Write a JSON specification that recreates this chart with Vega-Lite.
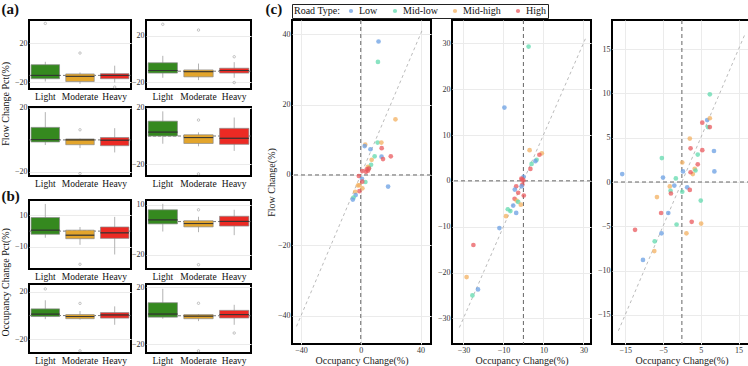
{
  "$schema": "https://vega.github.io/schema/vega-lite/v6.json",
  "padding": {"left": 1, "top": 1, "right": 1, "bottom": 1},
  "background": "white",
  "config": {
    "font": "'Liberation Serif', 'Times New Roman', 'DejaVu Serif', serif",
    "view": {"stroke": "black", "strokeWidth": 2},
    "axis": {"labelFont": "'Liberation Serif', 'Times New Roman', 'DejaVu Serif', serif", "titleFont": "'Liberation Serif', 'Times New Roman', 'DejaVu Serif', serif", "labelFontSize": 8, "titleFontSize": 10, "titleFontWeight": "normal", "labelColor": "#333", "titleColor": "#222", "domain": false, "ticks": false, "gridColor": "#ebebeb", "labelPadding": 2, "titlePadding": 1},
    "legend": {"labelFont": "'Liberation Serif', 'Times New Roman', 'DejaVu Serif', serif", "titleFont": "'Liberation Serif', 'Times New Roman', 'DejaVu Serif', serif"},
    "title": {"font": "'Liberation Serif', 'Times New Roman', 'DejaVu Serif', serif", "color": "#111"}
  },
  "datasets": {
    "box": [
      {"p": "A1", "c": "Light", "lo": -19.3, "q1": -16.4, "med": -13, "q3": -2, "hi": 1},
      {"p": "A1", "c": "Moderate", "lo": -21.7, "q1": -19.3, "med": -14, "q3": -11.5, "hi": -10},
      {"p": "A1", "c": "Heavy", "lo": -20.3, "q1": -16.4, "med": -13, "q3": -11.2, "hi": -3},
      {"p": "A2", "c": "Light", "lo": -16.3, "q1": -12.2, "med": -10, "q3": -3.3, "hi": 2.7},
      {"p": "A2", "c": "Moderate", "lo": -18.3, "q1": -15.5, "med": -11, "q3": -9.5, "hi": -4},
      {"p": "A2", "c": "Heavy", "lo": -16.3, "q1": -12.2, "med": -10, "q3": -8, "hi": -2.8},
      {"p": "A3", "c": "Light", "lo": -3.2, "q1": -1.3, "med": 0.2, "q3": 7.8, "hi": 17.3},
      {"p": "A3", "c": "Moderate", "lo": -5.1, "q1": -3, "med": 0, "q3": 0.6, "hi": 0.8},
      {"p": "A3", "c": "Heavy", "lo": -7.8, "q1": -3.6, "med": -0.2, "q3": 1.5, "hi": 7.3},
      {"p": "A4", "c": "Light", "lo": -5.5, "q1": 0, "med": 2.8, "q3": 10.6, "hi": 17.6},
      {"p": "A4", "c": "Moderate", "lo": -7.3, "q1": -5.3, "med": -1.1, "q3": 0.9, "hi": 2.6},
      {"p": "A4", "c": "Heavy", "lo": -10.6, "q1": -5.9, "med": -1.6, "q3": 5.5, "hi": 13.2},
      {"p": "B1", "c": "Light", "lo": -4.2, "q1": -2, "med": 0.6, "q3": 8.6, "hi": 17.2},
      {"p": "B1", "c": "Moderate", "lo": -8.7, "q1": -4.8, "med": -2.6, "q3": 0.6, "hi": 2.6},
      {"p": "B1", "c": "Heavy", "lo": -14.8, "q1": -4.6, "med": -1.1, "q3": 2.6, "hi": 9},
      {"p": "B2", "c": "Light", "lo": -6, "q1": -1.4, "med": 1, "q3": 7.1, "hi": 10.7},
      {"p": "B2", "c": "Moderate", "lo": -6.4, "q1": -3.2, "med": -1.2, "q3": 0.5, "hi": 2.9},
      {"p": "B2", "c": "Heavy", "lo": -8.2, "q1": -2.7, "med": 0.1, "q3": 3.2, "hi": 7.1},
      {"p": "B3", "c": "Light", "lo": -3, "q1": -0.8, "med": 1.2, "q3": 5.6, "hi": 12.8},
      {"p": "B3", "c": "Moderate", "lo": -3.4, "q1": -2.6, "med": -0.8, "q3": 0.8, "hi": 3.8},
      {"p": "B3", "c": "Heavy", "lo": -7.7, "q1": -2.1, "med": 0.5, "q3": 2.5, "hi": 7.7},
      {"p": "B4", "c": "Light", "lo": -2.1, "q1": -1, "med": 1.2, "q3": 9.2, "hi": 19},
      {"p": "B4", "c": "Moderate", "lo": -3.8, "q1": -2.1, "med": -0.3, "q3": 0.8, "hi": 1.2},
      {"p": "B4", "c": "Heavy", "lo": -6.4, "q1": -1.6, "med": 0.8, "q3": 3.8, "hi": 7.7}
    ],
    "out": [
      {"p": "A1", "c": "Light", "v": 40.5}, {"p": "A1", "c": "Moderate", "v": 10}, {"p": "A1", "c": "Heavy", "v": -25},
      {"p": "A2", "c": "Light", "v": 30}, {"p": "A2", "c": "Moderate", "v": 25}, {"p": "A2", "c": "Heavy", "v": 1.9}, {"p": "A2", "c": "Heavy", "v": -20.4},
      {"p": "A3", "c": "Moderate", "v": 6.3}, {"p": "A3", "c": "Moderate", "v": -21},
      {"p": "A4", "c": "Moderate", "v": 11.4}, {"p": "A4", "c": "Moderate", "v": -27},
      {"p": "B1", "c": "Moderate", "v": -21},
      {"p": "B2", "c": "Moderate", "v": 7.1}, {"p": "B2", "c": "Moderate", "v": -26},
      {"p": "B3", "c": "Light", "v": 22.3}, {"p": "B3", "c": "Moderate", "v": 10.2}, {"p": "B3", "c": "Moderate", "v": -29.5},
      {"p": "B4", "c": "Moderate", "v": 8.8}, {"p": "B4", "c": "Moderate", "v": -24.8}, {"p": "B4", "c": "Heavy", "v": -12.2}
    ],
    "refs": [
      {"p": "A1", "v": -13}, {"p": "A2", "v": -10.6}, {"p": "A3", "v": 0}, {"p": "A4", "v": 0},
      {"p": "B1", "v": 0}, {"p": "B2", "v": 0}, {"p": "B3", "v": 0}, {"p": "B4", "v": 0},
      {"p": "S1", "v": 0}, {"p": "S2", "v": 0}, {"p": "S3", "v": 0}
    ],
    "diag": [
      {"p": "S1", "x": -43, "y": -43}, {"p": "S1", "x": 41, "y": 41},
      {"p": "S2", "x": -32, "y": -32}, {"p": "S2", "x": 31.5, "y": 31.5},
      {"p": "S3", "x": -16.8, "y": -16.8}, {"p": "S3", "x": 16.6, "y": 16.6}
    ],
    "pts": [
      {"p": "S1", "x": 11.9, "y": 37.9, "t": "Low"}, {"p": "S1", "x": 11.5, "y": 32.1, "t": "Mid-low"}, {"p": "S1", "x": 23.2, "y": 15.8, "t": "Mid-high"},
      {"p": "S1", "x": 3.0, "y": 8.6, "t": "Mid-high"}, {"p": "S1", "x": 2.6, "y": 8.2, "t": "Low"}, {"p": "S1", "x": 6.5, "y": 7.3, "t": "Low"},
      {"p": "S1", "x": 11.3, "y": 9.2, "t": "Mid-low"}, {"p": "S1", "x": 13.8, "y": 9.2, "t": "Mid-high"}, {"p": "S1", "x": 14.0, "y": 7.6, "t": "High"},
      {"p": "S1", "x": 9.3, "y": 5.3, "t": "Mid-low"}, {"p": "S1", "x": 13.9, "y": 5.2, "t": "Low"}, {"p": "S1", "x": 14.9, "y": 4.5, "t": "High"},
      {"p": "S1", "x": 20.1, "y": 5.3, "t": "High"}, {"p": "S1", "x": 7.3, "y": 4.3, "t": "Mid-high"}, {"p": "S1", "x": 6.9, "y": 2.9, "t": "Mid-low"},
      {"p": "S1", "x": 5.5, "y": 2.0, "t": "Mid-low"}, {"p": "S1", "x": 4.8, "y": 2.3, "t": "Mid-high"}, {"p": "S1", "x": 4.0, "y": 1.6, "t": "High"},
      {"p": "S1", "x": 4.8, "y": 1.2, "t": "High"}, {"p": "S1", "x": 5.5, "y": 1.8, "t": "High"}, {"p": "S1", "x": 3.5, "y": 0.9, "t": "High"},
      {"p": "S1", "x": 1.0, "y": 1.1, "t": "High"}, {"p": "S1", "x": -1.3, "y": -0.3, "t": "High"}, {"p": "S1", "x": 0.8, "y": -1.1, "t": "Low"},
      {"p": "S1", "x": 3.1, "y": -2.0, "t": "Mid-low"}, {"p": "S1", "x": 1.0, "y": -1.9, "t": "High"}, {"p": "S1", "x": -1.9, "y": -3.0, "t": "Mid-high"},
      {"p": "S1", "x": 1.1, "y": -3.8, "t": "Mid-high"}, {"p": "S1", "x": -0.9, "y": -4.6, "t": "High"}, {"p": "S1", "x": -3.7, "y": -4.8, "t": "Mid-high"},
      {"p": "S1", "x": -3.4, "y": -5.7, "t": "Low"}, {"p": "S1", "x": -4.8, "y": -6.4, "t": "Mid-low"}, {"p": "S1", "x": -5.3, "y": -7.0, "t": "Low"},
      {"p": "S1", "x": 18.3, "y": -3.3, "t": "Low"}, {"p": "S1", "x": -1.0, "y": -2.9, "t": "Mid-high"},
      {"p": "S2", "x": -9.5, "y": 16.0, "t": "Low"}, {"p": "S2", "x": 2.6, "y": 29.3, "t": "Mid-low"}, {"p": "S2", "x": 3.1, "y": 6.7, "t": "Mid-high"},
      {"p": "S2", "x": 9.2, "y": 6.0, "t": "Mid-high"}, {"p": "S2", "x": 8.0, "y": 5.7, "t": "High"}, {"p": "S2", "x": 6.6, "y": 4.6, "t": "Mid-low"},
      {"p": "S2", "x": 6.0, "y": 4.3, "t": "Low"}, {"p": "S2", "x": 4.1, "y": 3.7, "t": "Mid-low"}, {"p": "S2", "x": 3.5, "y": 2.6, "t": "High"},
      {"p": "S2", "x": 0.1, "y": 0.9, "t": "Low"}, {"p": "S2", "x": -0.7, "y": 0.3, "t": "High"}, {"p": "S2", "x": 0.0, "y": 0.1, "t": "High"},
      {"p": "S2", "x": -1.0, "y": 0.5, "t": "High"}, {"p": "S2", "x": -0.5, "y": -0.8, "t": "High"}, {"p": "S2", "x": -0.9, "y": -1.2, "t": "Low"},
      {"p": "S2", "x": -3.6, "y": -1.2, "t": "High"}, {"p": "S2", "x": -4.3, "y": -1.9, "t": "Low"}, {"p": "S2", "x": -2.6, "y": -2.6, "t": "High"},
      {"p": "S2", "x": 0.2, "y": -3.2, "t": "High"}, {"p": "S2", "x": -4.4, "y": -3.9, "t": "High"}, {"p": "S2", "x": -3.4, "y": -4.3, "t": "Mid-high"},
      {"p": "S2", "x": -2.6, "y": -4.6, "t": "Mid-low"}, {"p": "S2", "x": -1.3, "y": -5.2, "t": "Mid-high"}, {"p": "S2", "x": -5.1, "y": -5.4, "t": "Low"},
      {"p": "S2", "x": -7.8, "y": -6.2, "t": "Mid-low"}, {"p": "S2", "x": -6.5, "y": -6.6, "t": "Mid-low"}, {"p": "S2", "x": -3.6, "y": -7.0, "t": "Low"},
      {"p": "S2", "x": -8.7, "y": -7.7, "t": "Mid-high"}, {"p": "S2", "x": -12.0, "y": -10.3, "t": "Low"}, {"p": "S2", "x": -25.0, "y": -14.0, "t": "High"},
      {"p": "S2", "x": -28.4, "y": -21.0, "t": "Mid-high"}, {"p": "S2", "x": -22.7, "y": -23.7, "t": "Low"}, {"p": "S2", "x": -25.5, "y": -25.0, "t": "Mid-low"},
      {"p": "S3", "x": 7.4, "y": 9.9, "t": "Mid-low"}, {"p": "S3", "x": 6.7, "y": 7.0, "t": "Low"}, {"p": "S3", "x": 7.4, "y": 7.2, "t": "Mid-high"},
      {"p": "S3", "x": 6.9, "y": 6.2, "t": "Mid-low"}, {"p": "S3", "x": 7.4, "y": 6.2, "t": "High"}, {"p": "S3", "x": 5.4, "y": 6.7, "t": "High"},
      {"p": "S3", "x": 2.1, "y": 4.9, "t": "Mid-high"}, {"p": "S3", "x": 2.3, "y": 3.8, "t": "High"}, {"p": "S3", "x": 5.4, "y": 3.6, "t": "High"},
      {"p": "S3", "x": 8.5, "y": 3.5, "t": "Low"}, {"p": "S3", "x": 4.2, "y": 3.1, "t": "Mid-low"}, {"p": "S3", "x": -5.3, "y": 2.7, "t": "Mid-low"},
      {"p": "S3", "x": 4.2, "y": 2.0, "t": "High"}, {"p": "S3", "x": 0.1, "y": 2.2, "t": "Mid-high"}, {"p": "S3", "x": 3.4, "y": 1.5, "t": "Mid-high"},
      {"p": "S3", "x": 3.6, "y": 1.3, "t": "Mid-low"}, {"p": "S3", "x": 2.9, "y": 0.9, "t": "Mid-high"}, {"p": "S3", "x": 2.3, "y": 1.1, "t": "High"},
      {"p": "S3", "x": 0.3, "y": 1.2, "t": "Low"}, {"p": "S3", "x": 8.6, "y": 1.2, "t": "Low"}, {"p": "S3", "x": -15.8, "y": 0.9, "t": "Low"},
      {"p": "S3", "x": -5.0, "y": 0.5, "t": "Low"}, {"p": "S3", "x": -1.6, "y": 0.4, "t": "Mid-low"}, {"p": "S3", "x": -3.2, "y": -0.5, "t": "Mid-high"},
      {"p": "S3", "x": -2.0, "y": -0.4, "t": "Low"}, {"p": "S3", "x": 1.4, "y": -0.6, "t": "Low"}, {"p": "S3", "x": -3.0, "y": -1.0, "t": "Mid-low"},
      {"p": "S3", "x": 0.1, "y": -1.1, "t": "Mid-low"}, {"p": "S3", "x": -2.9, "y": -1.3, "t": "High"}, {"p": "S3", "x": 2.1, "y": -0.9, "t": "High"},
      {"p": "S3", "x": -6.6, "y": -1.7, "t": "Mid-high"}, {"p": "S3", "x": 5.0, "y": -2.1, "t": "Mid-low"}, {"p": "S3", "x": -5.5, "y": -3.5, "t": "High"},
      {"p": "S3", "x": -3.6, "y": -3.5, "t": "Low"}, {"p": "S3", "x": -12.4, "y": -5.4, "t": "High"}, {"p": "S3", "x": -1.4, "y": -4.8, "t": "Mid-low"},
      {"p": "S3", "x": 2.6, "y": -4.5, "t": "High"}, {"p": "S3", "x": 5.1, "y": -4.7, "t": "Mid-high"}, {"p": "S3", "x": -5.4, "y": -5.8, "t": "Low"},
      {"p": "S3", "x": 1.2, "y": -5.8, "t": "Mid-high"}, {"p": "S3", "x": -7.2, "y": -6.7, "t": "Mid-low"}, {"p": "S3", "x": -7.3, "y": -7.8, "t": "Mid-high"},
      {"p": "S3", "x": -10.3, "y": -8.8, "t": "Low"}
    ]
  },
  "spacing": 12,
  "resolve": {"scale": {"color": "independent", "fill": "independent"}, "legend": {"color": "independent", "fill": "independent"}},
  "hconcat": [
    {
      "spacing": 0,
      "vconcat": [
        {
          "title": {"text": "(a)", "anchor": "start", "orient": "top", "fontSize": 15, "fontWeight": "bold", "offset": 2},
          "vconcat": [
            {
              "title": {"text": "Flow Change Pct(%)", "orient": "left", "anchor": "middle", "fontSize": 10, "fontWeight": "normal", "offset": 2},
              "spacing": 0,
              "vconcat": [
                {"bounds": "flush", "spacing": 15, "hconcat": [
                  {"width": 102, "height": 69, "layer": [
                    {"data": {"name": "refs"}, "transform": [{"filter": "datum.p === 'A1'"}], "mark": {"type": "rule", "color": "#555", "strokeDash": [3, 2], "strokeWidth": 0.8},
                     "encoding": {"y": {"field": "v", "type": "quantitative", "title": null, "scale": {"domain": [-27, 44], "nice": false, "zero": false}, "axis": {"values": [-20, 0, 20], "grid": true}}}},
                    {"data": {"name": "box"}, "transform": [{"filter": "datum.p === 'A1'"}], "mark": {"type": "rule", "color": "#aaa", "strokeWidth": 0.9},
                     "encoding": {"x": {"field": "c", "type": "nominal", "title": null, "scale": {"domain": ["Light", "Moderate", "Heavy"], "paddingInner": 0.18, "paddingOuter": 0.06}, "axis": {"labelAngle": 0, "labelFontSize": 9.5, "labelColor": "#111", "grid": false}}, "y": {"field": "lo", "type": "quantitative", "title": null}, "y2": {"field": "hi"}}},
                    {"data": {"name": "box"}, "transform": [{"filter": "datum.p === 'A1'"}], "mark": {"type": "bar", "stroke": "#8a8a8a", "strokeWidth": 0.7},
                     "encoding": {"x": {"field": "c", "type": "nominal", "title": null}, "y": {"field": "q1", "type": "quantitative", "title": null}, "y2": {"field": "q3"}, "fill": {"field": "c", "type": "nominal", "scale": {"domain": ["Light", "Moderate", "Heavy"], "range": ["#35891f", "#e3a52c", "#ec2a24"]}, "legend": null}}},
                    {"data": {"name": "box"}, "transform": [{"filter": "datum.p === 'A1'"}], "mark": {"type": "bar", "fillOpacity": 0, "stroke": "#333", "strokeWidth": 0.8},
                     "encoding": {"x": {"field": "c", "type": "nominal", "title": null}, "y": {"field": "med", "type": "quantitative", "title": null}, "y2": {"field": "med"}}},
                    {"data": {"name": "out"}, "transform": [{"filter": "datum.p === 'A1'"}], "mark": {"type": "point", "filled": false, "size": 6, "color": "#777", "strokeWidth": 0.6},
                     "encoding": {"x": {"field": "c", "type": "nominal", "title": null}, "y": {"field": "v", "type": "quantitative", "title": null}}}
                  ]},
                  {"width": 105, "height": 69, "layer": [
                    {"data": {"name": "refs"}, "transform": [{"filter": "datum.p === 'A2'"}], "mark": {"type": "rule", "color": "#555", "strokeDash": [3, 2], "strokeWidth": 0.8},
                     "encoding": {"y": {"field": "v", "type": "quantitative", "title": null, "scale": {"domain": [-26, 33.7], "nice": false, "zero": false}, "axis": {"values": [-20, 0, 20], "grid": true}}}},
                    {"data": {"name": "box"}, "transform": [{"filter": "datum.p === 'A2'"}], "mark": {"type": "rule", "color": "#aaa", "strokeWidth": 0.9},
                     "encoding": {"x": {"field": "c", "type": "nominal", "title": null, "scale": {"domain": ["Light", "Moderate", "Heavy"], "paddingInner": 0.18, "paddingOuter": 0.06}, "axis": {"labelAngle": 0, "labelFontSize": 9.5, "labelColor": "#111", "grid": false}}, "y": {"field": "lo", "type": "quantitative", "title": null}, "y2": {"field": "hi"}}},
                    {"data": {"name": "box"}, "transform": [{"filter": "datum.p === 'A2'"}], "mark": {"type": "bar", "stroke": "#8a8a8a", "strokeWidth": 0.7},
                     "encoding": {"x": {"field": "c", "type": "nominal", "title": null}, "y": {"field": "q1", "type": "quantitative", "title": null}, "y2": {"field": "q3"}, "fill": {"field": "c", "type": "nominal", "scale": {"domain": ["Light", "Moderate", "Heavy"], "range": ["#35891f", "#e3a52c", "#ec2a24"]}, "legend": null}}},
                    {"data": {"name": "box"}, "transform": [{"filter": "datum.p === 'A2'"}], "mark": {"type": "bar", "fillOpacity": 0, "stroke": "#333", "strokeWidth": 0.8},
                     "encoding": {"x": {"field": "c", "type": "nominal", "title": null}, "y": {"field": "med", "type": "quantitative", "title": null}, "y2": {"field": "med"}}},
                    {"data": {"name": "out"}, "transform": [{"filter": "datum.p === 'A2'"}], "mark": {"type": "point", "filled": false, "size": 6, "color": "#777", "strokeWidth": 0.6},
                     "encoding": {"x": {"field": "c", "type": "nominal", "title": null}, "y": {"field": "v", "type": "quantitative", "title": null}}}
                  ]}
                ]},
                {"bounds": "flush", "spacing": 15, "hconcat": [
                  {"width": 102, "height": 69, "layer": [
                    {"data": {"name": "refs"}, "transform": [{"filter": "datum.p === 'A3'"}], "mark": {"type": "rule", "color": "#555", "strokeDash": [3, 2], "strokeWidth": 0.8},
                     "encoding": {"y": {"field": "v", "type": "quantitative", "title": null, "scale": {"domain": [-22.5, 20.5], "nice": false, "zero": false}, "axis": {"values": [-20, 0, 20], "grid": true}}}},
                    {"data": {"name": "box"}, "transform": [{"filter": "datum.p === 'A3'"}], "mark": {"type": "rule", "color": "#aaa", "strokeWidth": 0.9},
                     "encoding": {"x": {"field": "c", "type": "nominal", "title": null, "scale": {"domain": ["Light", "Moderate", "Heavy"], "paddingInner": 0.18, "paddingOuter": 0.06}, "axis": {"labelAngle": 0, "labelFontSize": 9.5, "labelColor": "#111", "grid": false}}, "y": {"field": "lo", "type": "quantitative", "title": null}, "y2": {"field": "hi"}}},
                    {"data": {"name": "box"}, "transform": [{"filter": "datum.p === 'A3'"}], "mark": {"type": "bar", "stroke": "#8a8a8a", "strokeWidth": 0.7},
                     "encoding": {"x": {"field": "c", "type": "nominal", "title": null}, "y": {"field": "q1", "type": "quantitative", "title": null}, "y2": {"field": "q3"}, "fill": {"field": "c", "type": "nominal", "scale": {"domain": ["Light", "Moderate", "Heavy"], "range": ["#35891f", "#e3a52c", "#ec2a24"]}, "legend": null}}},
                    {"data": {"name": "box"}, "transform": [{"filter": "datum.p === 'A3'"}], "mark": {"type": "bar", "fillOpacity": 0, "stroke": "#333", "strokeWidth": 0.8},
                     "encoding": {"x": {"field": "c", "type": "nominal", "title": null}, "y": {"field": "med", "type": "quantitative", "title": null}, "y2": {"field": "med"}}},
                    {"data": {"name": "out"}, "transform": [{"filter": "datum.p === 'A3'"}], "mark": {"type": "point", "filled": false, "size": 6, "color": "#777", "strokeWidth": 0.6},
                     "encoding": {"x": {"field": "c", "type": "nominal", "title": null}, "y": {"field": "v", "type": "quantitative", "title": null}}}
                  ]},
                  {"width": 105, "height": 69, "layer": [
                    {"data": {"name": "refs"}, "transform": [{"filter": "datum.p === 'A4'"}], "mark": {"type": "rule", "color": "#555", "strokeDash": [3, 2], "strokeWidth": 0.8},
                     "encoding": {"y": {"field": "v", "type": "quantitative", "title": null, "scale": {"domain": [-28.5, 20.7], "nice": false, "zero": false}, "axis": {"values": [-20, 0, 20], "grid": true}}}},
                    {"data": {"name": "box"}, "transform": [{"filter": "datum.p === 'A4'"}], "mark": {"type": "rule", "color": "#aaa", "strokeWidth": 0.9},
                     "encoding": {"x": {"field": "c", "type": "nominal", "title": null, "scale": {"domain": ["Light", "Moderate", "Heavy"], "paddingInner": 0.18, "paddingOuter": 0.06}, "axis": {"labelAngle": 0, "labelFontSize": 9.5, "labelColor": "#111", "grid": false}}, "y": {"field": "lo", "type": "quantitative", "title": null}, "y2": {"field": "hi"}}},
                    {"data": {"name": "box"}, "transform": [{"filter": "datum.p === 'A4'"}], "mark": {"type": "bar", "stroke": "#8a8a8a", "strokeWidth": 0.7},
                     "encoding": {"x": {"field": "c", "type": "nominal", "title": null}, "y": {"field": "q1", "type": "quantitative", "title": null}, "y2": {"field": "q3"}, "fill": {"field": "c", "type": "nominal", "scale": {"domain": ["Light", "Moderate", "Heavy"], "range": ["#35891f", "#e3a52c", "#ec2a24"]}, "legend": null}}},
                    {"data": {"name": "box"}, "transform": [{"filter": "datum.p === 'A4'"}], "mark": {"type": "bar", "fillOpacity": 0, "stroke": "#333", "strokeWidth": 0.8},
                     "encoding": {"x": {"field": "c", "type": "nominal", "title": null}, "y": {"field": "med", "type": "quantitative", "title": null}, "y2": {"field": "med"}}},
                    {"data": {"name": "out"}, "transform": [{"filter": "datum.p === 'A4'"}], "mark": {"type": "point", "filled": false, "size": 6, "color": "#777", "strokeWidth": 0.6},
                     "encoding": {"x": {"field": "c", "type": "nominal", "title": null}, "y": {"field": "v", "type": "quantitative", "title": null}}}
                  ]}
                ]}
              ]
            }
          ]
        },
        {
          "title": {"text": "(b)", "anchor": "start", "orient": "top", "fontSize": 15, "fontWeight": "bold", "offset": -5},
          "vconcat": [
            {
              "title": {"text": "Occupancy Change Pct(%)", "orient": "left", "anchor": "middle", "fontSize": 10, "fontWeight": "normal", "offset": 2},
              "spacing": 0,
              "vconcat": [
                {"bounds": "flush", "spacing": 15, "hconcat": [
                  {"width": 102, "height": 69, "layer": [
                    {"data": {"name": "refs"}, "transform": [{"filter": "datum.p === 'B1'"}], "mark": {"type": "rule", "color": "#555", "strokeDash": [3, 2], "strokeWidth": 0.8},
                     "encoding": {"y": {"field": "v", "type": "quantitative", "title": null, "scale": {"domain": [-24, 19.7], "nice": false, "zero": false}, "axis": {"values": [-10, 0, 10], "grid": true}}}},
                    {"data": {"name": "box"}, "transform": [{"filter": "datum.p === 'B1'"}], "mark": {"type": "rule", "color": "#aaa", "strokeWidth": 0.9},
                     "encoding": {"x": {"field": "c", "type": "nominal", "title": null, "scale": {"domain": ["Light", "Moderate", "Heavy"], "paddingInner": 0.18, "paddingOuter": 0.06}, "axis": {"labelAngle": 0, "labelFontSize": 9.5, "labelColor": "#111", "grid": false}}, "y": {"field": "lo", "type": "quantitative", "title": null}, "y2": {"field": "hi"}}},
                    {"data": {"name": "box"}, "transform": [{"filter": "datum.p === 'B1'"}], "mark": {"type": "bar", "stroke": "#8a8a8a", "strokeWidth": 0.7},
                     "encoding": {"x": {"field": "c", "type": "nominal", "title": null}, "y": {"field": "q1", "type": "quantitative", "title": null}, "y2": {"field": "q3"}, "fill": {"field": "c", "type": "nominal", "scale": {"domain": ["Light", "Moderate", "Heavy"], "range": ["#35891f", "#e3a52c", "#ec2a24"]}, "legend": null}}},
                    {"data": {"name": "box"}, "transform": [{"filter": "datum.p === 'B1'"}], "mark": {"type": "bar", "fillOpacity": 0, "stroke": "#333", "strokeWidth": 0.8},
                     "encoding": {"x": {"field": "c", "type": "nominal", "title": null}, "y": {"field": "med", "type": "quantitative", "title": null}, "y2": {"field": "med"}}},
                    {"data": {"name": "out"}, "transform": [{"filter": "datum.p === 'B1'"}], "mark": {"type": "point", "filled": false, "size": 6, "color": "#777", "strokeWidth": 0.6},
                     "encoding": {"x": {"field": "c", "type": "nominal", "title": null}, "y": {"field": "v", "type": "quantitative", "title": null}}}
                  ]},
                  {"width": 105, "height": 69, "layer": [
                    {"data": {"name": "refs"}, "transform": [{"filter": "datum.p === 'B2'"}], "mark": {"type": "rule", "color": "#555", "strokeDash": [3, 2], "strokeWidth": 0.8},
                     "encoding": {"y": {"field": "v", "type": "quantitative", "title": null, "scale": {"domain": [-28.6, 13], "nice": false, "zero": false}, "axis": {"values": [-20, -10, 0, 10], "grid": true}}}},
                    {"data": {"name": "box"}, "transform": [{"filter": "datum.p === 'B2'"}], "mark": {"type": "rule", "color": "#aaa", "strokeWidth": 0.9},
                     "encoding": {"x": {"field": "c", "type": "nominal", "title": null, "scale": {"domain": ["Light", "Moderate", "Heavy"], "paddingInner": 0.18, "paddingOuter": 0.06}, "axis": {"labelAngle": 0, "labelFontSize": 9.5, "labelColor": "#111", "grid": false}}, "y": {"field": "lo", "type": "quantitative", "title": null}, "y2": {"field": "hi"}}},
                    {"data": {"name": "box"}, "transform": [{"filter": "datum.p === 'B2'"}], "mark": {"type": "bar", "stroke": "#8a8a8a", "strokeWidth": 0.7},
                     "encoding": {"x": {"field": "c", "type": "nominal", "title": null}, "y": {"field": "q1", "type": "quantitative", "title": null}, "y2": {"field": "q3"}, "fill": {"field": "c", "type": "nominal", "scale": {"domain": ["Light", "Moderate", "Heavy"], "range": ["#35891f", "#e3a52c", "#ec2a24"]}, "legend": null}}},
                    {"data": {"name": "box"}, "transform": [{"filter": "datum.p === 'B2'"}], "mark": {"type": "bar", "fillOpacity": 0, "stroke": "#333", "strokeWidth": 0.8},
                     "encoding": {"x": {"field": "c", "type": "nominal", "title": null}, "y": {"field": "med", "type": "quantitative", "title": null}, "y2": {"field": "med"}}},
                    {"data": {"name": "out"}, "transform": [{"filter": "datum.p === 'B2'"}], "mark": {"type": "point", "filled": false, "size": 6, "color": "#777", "strokeWidth": 0.6},
                     "encoding": {"x": {"field": "c", "type": "nominal", "title": null}, "y": {"field": "v", "type": "quantitative", "title": null}}}
                  ]}
                ]},
                {"bounds": "flush", "spacing": 15, "hconcat": [
                  {"width": 102, "height": 69, "layer": [
                    {"data": {"name": "refs"}, "transform": [{"filter": "datum.p === 'B3'"}], "mark": {"type": "rule", "color": "#555", "strokeDash": [3, 2], "strokeWidth": 0.8},
                     "encoding": {"y": {"field": "v", "type": "quantitative", "title": null, "scale": {"domain": [-31.3, 26.4], "nice": false, "zero": false}, "axis": {"values": [-20, 0, 20], "grid": true}}}},
                    {"data": {"name": "box"}, "transform": [{"filter": "datum.p === 'B3'"}], "mark": {"type": "rule", "color": "#aaa", "strokeWidth": 0.9},
                     "encoding": {"x": {"field": "c", "type": "nominal", "title": null, "scale": {"domain": ["Light", "Moderate", "Heavy"], "paddingInner": 0.18, "paddingOuter": 0.06}, "axis": {"labelAngle": 0, "labelFontSize": 9.5, "labelColor": "#111", "grid": false}}, "y": {"field": "lo", "type": "quantitative", "title": null}, "y2": {"field": "hi"}}},
                    {"data": {"name": "box"}, "transform": [{"filter": "datum.p === 'B3'"}], "mark": {"type": "bar", "stroke": "#8a8a8a", "strokeWidth": 0.7},
                     "encoding": {"x": {"field": "c", "type": "nominal", "title": null}, "y": {"field": "q1", "type": "quantitative", "title": null}, "y2": {"field": "q3"}, "fill": {"field": "c", "type": "nominal", "scale": {"domain": ["Light", "Moderate", "Heavy"], "range": ["#35891f", "#e3a52c", "#ec2a24"]}, "legend": null}}},
                    {"data": {"name": "box"}, "transform": [{"filter": "datum.p === 'B3'"}], "mark": {"type": "bar", "fillOpacity": 0, "stroke": "#333", "strokeWidth": 0.8},
                     "encoding": {"x": {"field": "c", "type": "nominal", "title": null}, "y": {"field": "med", "type": "quantitative", "title": null}, "y2": {"field": "med"}}},
                    {"data": {"name": "out"}, "transform": [{"filter": "datum.p === 'B3'"}], "mark": {"type": "point", "filled": false, "size": 6, "color": "#777", "strokeWidth": 0.6},
                     "encoding": {"x": {"field": "c", "type": "nominal", "title": null}, "y": {"field": "v", "type": "quantitative", "title": null}}}
                  ]},
                  {"width": 105, "height": 69, "layer": [
                    {"data": {"name": "refs"}, "transform": [{"filter": "datum.p === 'B4'"}], "mark": {"type": "rule", "color": "#555", "strokeDash": [3, 2], "strokeWidth": 0.8},
                     "encoding": {"y": {"field": "v", "type": "quantitative", "title": null, "scale": {"domain": [-26.3, 22.4], "nice": false, "zero": false}, "axis": {"values": [-20, 0, 20], "grid": true}}}},
                    {"data": {"name": "box"}, "transform": [{"filter": "datum.p === 'B4'"}], "mark": {"type": "rule", "color": "#aaa", "strokeWidth": 0.9},
                     "encoding": {"x": {"field": "c", "type": "nominal", "title": null, "scale": {"domain": ["Light", "Moderate", "Heavy"], "paddingInner": 0.18, "paddingOuter": 0.06}, "axis": {"labelAngle": 0, "labelFontSize": 9.5, "labelColor": "#111", "grid": false}}, "y": {"field": "lo", "type": "quantitative", "title": null}, "y2": {"field": "hi"}}},
                    {"data": {"name": "box"}, "transform": [{"filter": "datum.p === 'B4'"}], "mark": {"type": "bar", "stroke": "#8a8a8a", "strokeWidth": 0.7},
                     "encoding": {"x": {"field": "c", "type": "nominal", "title": null}, "y": {"field": "q1", "type": "quantitative", "title": null}, "y2": {"field": "q3"}, "fill": {"field": "c", "type": "nominal", "scale": {"domain": ["Light", "Moderate", "Heavy"], "range": ["#35891f", "#e3a52c", "#ec2a24"]}, "legend": null}}},
                    {"data": {"name": "box"}, "transform": [{"filter": "datum.p === 'B4'"}], "mark": {"type": "bar", "fillOpacity": 0, "stroke": "#333", "strokeWidth": 0.8},
                     "encoding": {"x": {"field": "c", "type": "nominal", "title": null}, "y": {"field": "med", "type": "quantitative", "title": null}, "y2": {"field": "med"}}},
                    {"data": {"name": "out"}, "transform": [{"filter": "datum.p === 'B4'"}], "mark": {"type": "point", "filled": false, "size": 6, "color": "#777", "strokeWidth": 0.6},
                     "encoding": {"x": {"field": "c", "type": "nominal", "title": null}, "y": {"field": "v", "type": "quantitative", "title": null}}}
                  ]}
                ]}
              ]
            }
          ]
        }
      ]
    },
    {
      "title": {"text": "(c)", "anchor": "start", "orient": "top", "fontSize": 15, "fontWeight": "bold", "offset": 0, "dy": 14},
      "bounds": "flush",
      "spacing": 21,
      "resolve": {"scale": {"color": "independent"}, "legend": {"color": "independent"}},
      "hconcat": [
        {"width": 139, "height": 324, "layer": [
          {"data": {"name": "refs"}, "transform": [{"filter": "datum.p === 'S1'"}], "mark": {"type": "rule", "color": "#666", "strokeDash": [4, 3], "strokeWidth": 1},
           "encoding": {"x": {"field": "v", "type": "quantitative", "title": "Occupancy Change(%)", "scale": {"domain": [-46, 47], "nice": false, "zero": false}, "axis": {"values": [-40, -20, 0, 20, 40], "grid": true}}}},
          {"data": {"name": "refs"}, "transform": [{"filter": "datum.p === 'S1'"}], "mark": {"type": "rule", "color": "#666", "strokeDash": [4, 3], "strokeWidth": 1},
           "encoding": {"y": {"field": "v", "type": "quantitative", "title": "Flow Change(%)", "scale": {"domain": [-48, 44], "nice": false, "zero": false}, "axis": {"values": [-40, -20, 0, 20, 40], "grid": true}}}},
          {"data": {"name": "diag"}, "transform": [{"filter": "datum.p === 'S1'"}], "mark": {"type": "line", "color": "#aaa", "strokeDash": [3, 3], "strokeWidth": 0.8},
           "encoding": {"x": {"field": "x", "type": "quantitative", "title": "Occupancy Change(%)"}, "y": {"field": "y", "type": "quantitative", "title": "Flow Change(%)"}}},
          {"data": {"name": "pts"}, "transform": [{"filter": "datum.p === 'S1'"}], "mark": {"type": "circle", "size": 22, "opacity": 0.75},
           "encoding": {"x": {"field": "x", "type": "quantitative", "title": "Occupancy Change(%)"}, "y": {"field": "y", "type": "quantitative", "title": "Flow Change(%)"},
            "color": {"field": "t", "type": "nominal", "scale": {"domain": ["Low", "Mid-low", "Mid-high", "High"], "range": ["#6a9fe3", "#62d9ae", "#f3b060", "#ea5a5e"]},
             "legend": {"orient": "top", "direction": "horizontal", "title": "Road Type:", "titleOrient": "left", "titleFontSize": 10, "titleFontWeight": "normal", "titleColor": "#111", "labelFontSize": 10, "labelColor": "#111", "symbolType": "circle", "symbolSize": 18, "strokeColor": "#222", "padding": 2, "offset": 2, "columnPadding": 12, "labelOffset": 3, "titlePadding": 5}}}}
        ]},
        {"width": 139, "height": 324, "layer": [
          {"data": {"name": "refs"}, "transform": [{"filter": "datum.p === 'S2'"}], "mark": {"type": "rule", "color": "#666", "strokeDash": [4, 3], "strokeWidth": 1},
           "encoding": {"x": {"field": "v", "type": "quantitative", "title": "Occupancy Change(%)", "scale": {"domain": [-35.7, 33.8], "nice": false, "zero": false}, "axis": {"values": [-30, -20, -10, 0, 10, 20, 30], "grid": true}}}},
          {"data": {"name": "refs"}, "transform": [{"filter": "datum.p === 'S2'"}], "mark": {"type": "rule", "color": "#666", "strokeDash": [4, 3], "strokeWidth": 1},
           "encoding": {"y": {"field": "v", "type": "quantitative", "title": null, "scale": {"domain": [-35.6, 35.1], "nice": false, "zero": false}, "axis": {"values": [-30, -20, -10, 0, 10, 20, 30], "grid": true}}}},
          {"data": {"name": "diag"}, "transform": [{"filter": "datum.p === 'S2'"}], "mark": {"type": "line", "color": "#aaa", "strokeDash": [3, 3], "strokeWidth": 0.8},
           "encoding": {"x": {"field": "x", "type": "quantitative", "title": "Occupancy Change(%)"}, "y": {"field": "y", "type": "quantitative", "title": null}}},
          {"data": {"name": "pts"}, "transform": [{"filter": "datum.p === 'S2'"}], "mark": {"type": "circle", "size": 22, "opacity": 0.75},
           "encoding": {"x": {"field": "x", "type": "quantitative", "title": "Occupancy Change(%)"}, "y": {"field": "y", "type": "quantitative", "title": null},
            "color": {"field": "t", "type": "nominal", "scale": {"domain": ["Low", "Mid-low", "Mid-high", "High"], "range": ["#6a9fe3", "#62d9ae", "#f3b060", "#ea5a5e"]}, "legend": null}}}
        ]},
        {"width": 139, "height": 324, "layer": [
          {"data": {"name": "refs"}, "transform": [{"filter": "datum.p === 'S3'"}], "mark": {"type": "rule", "color": "#666", "strokeDash": [4, 3], "strokeWidth": 1},
           "encoding": {"x": {"field": "v", "type": "quantitative", "title": "Occupancy Change(%)", "scale": {"domain": [-18.5, 18.3], "nice": false, "zero": false}, "axis": {"values": [-15, -10, -5, 0, 5, 10, 15], "grid": true}}}},
          {"data": {"name": "refs"}, "transform": [{"filter": "datum.p === 'S3'"}], "mark": {"type": "rule", "color": "#666", "strokeDash": [4, 3], "strokeWidth": 1},
           "encoding": {"y": {"field": "v", "type": "quantitative", "title": null, "scale": {"domain": [-18.3, 18.3], "nice": false, "zero": false}, "axis": {"values": [-15, -10, -5, 0, 5, 10, 15], "grid": true}}}},
          {"data": {"name": "diag"}, "transform": [{"filter": "datum.p === 'S3'"}], "mark": {"type": "line", "color": "#aaa", "strokeDash": [3, 3], "strokeWidth": 0.8},
           "encoding": {"x": {"field": "x", "type": "quantitative", "title": "Occupancy Change(%)"}, "y": {"field": "y", "type": "quantitative", "title": null}}},
          {"data": {"name": "pts"}, "transform": [{"filter": "datum.p === 'S3'"}], "mark": {"type": "circle", "size": 22, "opacity": 0.75},
           "encoding": {"x": {"field": "x", "type": "quantitative", "title": "Occupancy Change(%)"}, "y": {"field": "y", "type": "quantitative", "title": null},
            "color": {"field": "t", "type": "nominal", "scale": {"domain": ["Low", "Mid-low", "Mid-high", "High"], "range": ["#6a9fe3", "#62d9ae", "#f3b060", "#ea5a5e"]}, "legend": null}}}
        ]}
      ]
    }
  ]
}
